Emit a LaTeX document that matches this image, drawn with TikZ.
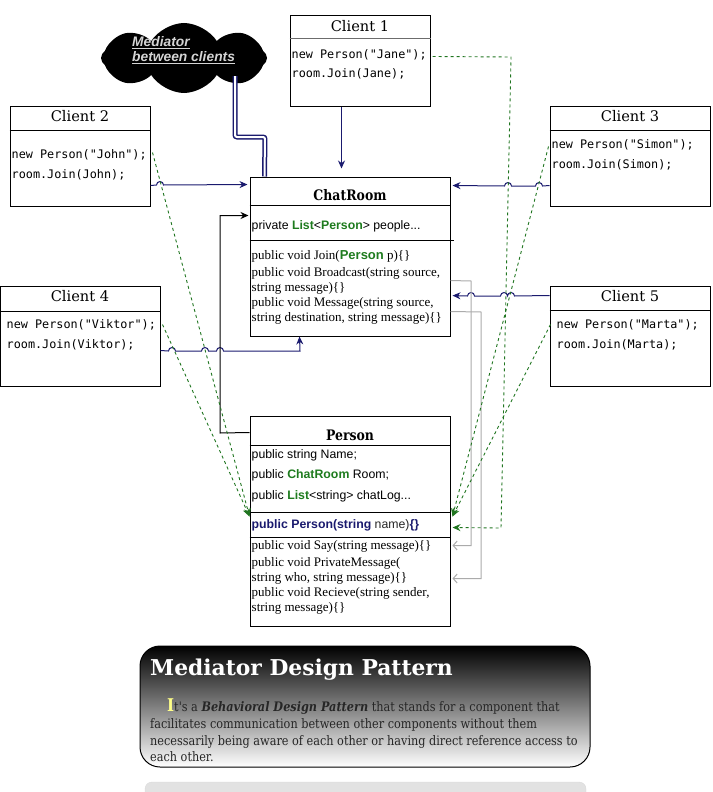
\documentclass[tikz,border=0pt]{standalone}
\usepackage{fontspec}
\setmainfont{Liberation Serif}
\setsansfont{Liberation Sans}
\setmonofont{DejaVu Sans Mono}
\newfontfamily\titlefont{DejaVu Serif}
\newfontfamily\georgia[FakeStretch=0.86]{DejaVu Serif}
\usepackage{tikz}
\usetikzlibrary{positioning,arrows.meta,calc,shapes.symbols}
\definecolor{navy1}{HTML}{1A1A6E}
\definecolor{green1}{HTML}{1E7B1E}
\definecolor{dash1}{HTML}{207520}
\definecolor{gray1}{HTML}{ABABAB}
\definecolor{cloudtext}{HTML}{D4D4D4}
\definecolor{hilite}{HTML}{FFFF88}
\definecolor{bar1}{HTML}{E2E2E2}
\newcommand\kw[1]{\textcolor{green1}{\textbf{#1}}}

\begin{document}
\begin{tikzpicture}[
    x=1pt, y=-1pt,
    box/.style={draw, line width=1pt, inner sep=0pt},
    title/.style={inner sep=0pt, font=\titlefont\fontsize{14.6}{17}\selectfont},
    ctitle/.style={inner sep=0pt, font=\georgia\bfseries\fontsize{14.5}{17}\selectfont},
    code/.style={anchor=base west, inner sep=0pt,
                 font=\ttfamily\fontsize{11.8}{14}\selectfont},
    attr/.style={anchor=base west, inner sep=0pt,
                 font=\sffamily\fontsize{12.3}{14}\selectfont},
    meth/.style={anchor=base west, inner sep=0pt,
                 font=\fontsize{13}{15}\selectfont},
    body/.style={anchor=base west, inner sep=0pt, text=black!85,
                 font=\georgia\fontsize{13.1}{17}\selectfont},
    link/.style={navy1, line width=1pt, -{Stealth[length=8pt,width=7pt]}},
    usage/.style={dash1, line width=0.9pt, dash pattern=on 3pt off 3pt,
                  -{Stealth[length=8pt,width=7pt]}},
    back/.style={gray1, line width=1pt, -{Straight Barb[length=4pt,width=9pt]}},
    divide/.style={line width=1pt},
]
\useasboundingbox (0,0) rectangle (712,792);

\node[cloud, cloud puffs=8, cloud puff arc=115, cloud ignores aspect, fill=black,
      minimum width=166, minimum height=70, inner sep=0pt] (cld) at (184,58) {};
\node[anchor=north west, inner sep=0pt, align=left, text=cloudtext,
      font=\sffamily\bfseries\itshape\fontsize{13.8}{15}\selectfont] (cldtext) at (132,36)
    {\underline{Mediator}\\\underline{between clients}};

\node[box, minimum width=140, minimum height=90] (c1) at (360,61) {};
\node[title] (t1) at ($(c1.north)+(0,11)$) {Client 1};
\draw[line width=1.6pt, gray!85!black] ($(c1.north west)+(0,23)$) -- ($(c1.north east)+(0,23)$);
\node[code] (c1a) at ($(c1.north west)+(2,43)$) {new Person("Jane");};
\node[code] (c1b) at ($(c1.north west)+(2,62)$) {room.Join(Jane);};

\node[box, minimum width=140, minimum height=100] (c2) at (80,156) {};
\node[title] (t2) at ($(c2.north)+(0,11)$) {Client 2};
\draw[divide] ($(c2.north west)+(0,25)$) -- ($(c2.north east)+(0,25)$);
\node[code] (c2a) at ($(c2.north west)+(2,53)$) {new Person("John");};
\node[code] (c2b) at ($(c2.north west)+(2,73)$) {room.Join(John);};

\node[box, minimum width=160, minimum height=100] (c3) at (630,156) {};
\node[title] (t3) at ($(c3.north)+(0,11)$) {Client 3};
\draw[divide] ($(c3.north west)+(0,25)$) -- ($(c3.north east)+(0,25)$);
\node[code] (c3a) at ($(c3.north west)+(2,43)$) {new Person("Simon");};
\node[code] (c3b) at ($(c3.north west)+(2,63)$) {room.Join(Simon);};

\node[box, minimum width=160, minimum height=100] (c4) at (80,336) {};
\node[title] (t4) at ($(c4.north)+(0,11)$) {Client 4};
\draw[divide] ($(c4.north west)+(0,26)$) -- ($(c4.north east)+(0,26)$);
\node[code] (c4a) at ($(c4.north west)+(7,43)$) {new Person("Viktor");};
\node[code] (c4b) at ($(c4.north west)+(7,63)$) {room.Join(Viktor);};

\node[box, minimum width=160, minimum height=100] (c5) at (630,336) {};
\node[title] (t5) at ($(c5.north)+(0,11)$) {Client 5};
\draw[divide] ($(c5.north west)+(0,25)$) -- ($(c5.north east)+(0,25)$);
\node[code] (c5a) at ($(c5.north west)+(7,43)$) {new Person("Marta");};
\node[code] (c5b) at ($(c5.north west)+(7,63)$) {room.Join(Marta);};

\node[box, minimum width=200, minimum height=159] (cr) at (350,256.5) {};
\node[ctitle] (tcr) at ($(cr.north)+(0,19)$) {ChatRoom};
\draw[divide] ($(cr.north west)+(0,29)$) -- ($(cr.north east)+(0,29)$);
\node[attr] (cr1) at ($(cr.north west)+(2,53)$) {private \kw{List}<\kw{Person}> people...};
\draw[divide] ($(cr.north west)+(0,64)$) -- ($(cr.north east)+(3,64)$);
\node[meth] (cr2) at ($(cr.north west)+(2,83)$) {public void Join(\textsf{\kw{Person}} p)\{\}};
\node[meth] (cr3) at ($(cr.north west)+(2,100)$) {public void Broadcast(string source,};
\node[meth] (cr4) at ($(cr.north west)+(2,115)$) {string message)\{\}};
\node[meth] (cr5) at ($(cr.north west)+(2,130)$) {public void Message(string source,};
\node[meth] (cr6) at ($(cr.north west)+(2,145)$) {string destination, string message)\{\}};

\node[box, minimum width=200, minimum height=210] (pr) at (350,521) {};
\node[ctitle] (tpr) at ($(pr.north)+(0,20)$) {Person};
\draw[divide] ($(pr.north west)+(0,30)$) -- ($(pr.north east)+(0,30)$);
\node[attr] (pr1) at ($(pr.north west)+(2,43)$) {public string Name;};
\node[attr] (pr2) at ($(pr.north west)+(2,63)$) {public \kw{ChatRoom} Room;};
\node[attr] (pr3) at ($(pr.north west)+(2,84)$) {public \kw{List}<string> chatLog...};
\draw[divide] ($(pr.north west)+(0,97)$) -- ($(pr.north east)+(0,97)$);
\node[attr, text=navy1] (pr4) at ($(pr.north west)+(2,113)$)
    {\textbf{public Person(string} \textcolor{black!85}{name)}\textbf{\{\}}};
\draw[divide] ($(pr.north west)+(0,122)$) -- ($(pr.north east)+(0,122)$);
\node[meth] (pr5) at ($(pr.north west)+(2,134)$) {public void Say(string message)\{\}};
\node[meth] (pr6) at ($(pr.north west)+(2,151)$) {public void PrivateMessage(};
\node[meth] (pr7) at ($(pr.north west)+(2,166)$) {string who, string message)\{\}};
\node[meth] (pr8) at ($(pr.north west)+(2,181)$) {public void Recieve(string sender,};
\node[meth] (pr9) at ($(pr.north west)+(2,196)$) {string message)\{\}};

\draw[navy1, line width=1.5pt, double=white, double distance=2pt, rounded corners=2pt]
    ($(cld.center)+(51,18)$) |- (265,137) -- ($(cr.north west)+(15,0)$);

\draw[link, shorten >=8pt] ($(c1.south west)+(52,0)$) -- ($(cr.north west)+(92,0)$);
\draw[link, shorten >=2pt] ($(c2.south east)+(0,-21)$) -- (156.5,185)
    arc[start angle=180, end angle=360, radius=3.5] -- ($(cr.north west)+(0,8)$);
\draw[link, shorten >=2pt] ($(c3.north west)+(0,80)$) -- (542.5,186)
    arc[start angle=0, end angle=-180, radius=3.5] -- (511.5,186)
    arc[start angle=0, end angle=-180, radius=3.5] -- ($(cr.north east)+(0,9)$);
\draw[link] ($(c4.north east)+(0,65)$) -- (168.5,351)
    arc[start angle=180, end angle=360, radius=3.5] -- (201.5,351)
    arc[start angle=180, end angle=360, radius=3.5] -- (216.5,351)
    arc[start angle=180, end angle=360, radius=3.5] -- (300,351)
    -- ($(cr.south west)+(50,0)$);
\draw[link, shorten >=2pt] ($(c5.north west)+(0,10)$) -- (514.5,296)
    arc[start angle=0, end angle=-180, radius=3.5]
    arc[start angle=0, end angle=-180, radius=3.5] -- (474.5,296)
    arc[start angle=0, end angle=-180, radius=3.5] -- ($(cr.north east)+(0,119)$);

\draw[line width=1pt, -{Stealth[length=8pt,width=7pt]}, shorten >=1pt]
    ($(pr.north west)+(0,17)$) -- (220,433) |- ($(cr.north west)+(0,39)$);

\draw[back] ($(cr.north east)+(0,104)$) -- (471,281) |- ($(pr.north east)+(2,130)$);
\draw[back] ($(cr.north east)+(0,135)$) -- (481,312) |- ($(pr.north east)+(2,163)$);

\draw[usage] ($(c2.north east)+(2,47)$) -- ($(pr.north west)+(0,101)$);
\draw[usage] ($(c4.north east)+(2,39)$) -- ($(pr.north west)+(0,101)$);
\draw[usage] ($(c1.north east)+(2,41)$) -- (511,57) -- (501,528) -- ($(pr.north east)+(2,112)$);
\draw[usage] ($(c3.north west)+(-1,41)$) -- ($(pr.north east)+(2,101)$);
\draw[usage] ($(c5.north west)+(1,39)$) -- ($(pr.north east)+(2,101)$);

\node[draw, line width=1pt, rounded corners=20pt, top color=black, bottom color=white,
      minimum width=450, minimum height=121, inner sep=0pt] (panel) at (365,706.5) {};
\node[anchor=base west, inner sep=0pt, text=white,
      font=\titlefont\bfseries\fontsize{21.8}{24}\selectfont] (ptitle) at (150,675)
    {Mediator Design Pattern};
\node[body] (b1) at (167,711)
    {\textcolor{hilite}{\fontsize{17.5}{17}\selectfont\bfseries I}t's a
     \textbf{\textit{Behavioral Design Pattern}} that stands for a component that};
\node[body] (b2) at (150,728)
    {facilitates communication between other components without them};
\node[body] (b3) at (150,745)
    {necessarily being aware of each other or having direct reference access to};
\node[body] (b4) at (150,761) {each other.};

\node[fill=bar1, draw=black!15, rounded corners=7pt, minimum width=441,
      minimum height=20, inner sep=0pt] (bar) at (365.5,792) {};
\end{tikzpicture}
\end{document}
